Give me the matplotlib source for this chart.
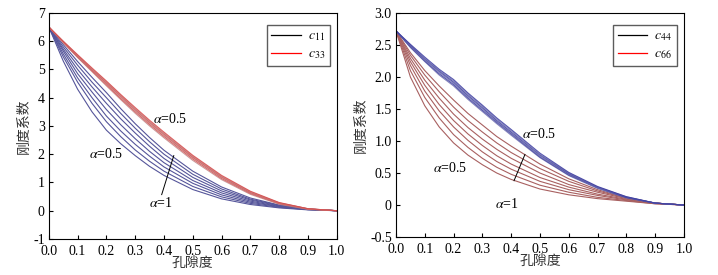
import matplotlib
matplotlib.use('Agg')
import matplotlib.pyplot as plt

plt.rcParams['font.family'] = ['Liberation Serif', 'Noto Sans CJK SC', 'DejaVu Sans']
plt.rcParams['mathtext.fontset'] = 'stix'
plt.rcParams['axes.unicode_minus'] = False

# porosity grid
phi = [0, 0.05, 0.1, 0.15, 0.2, 0.25, 0.3, 0.35, 0.4, 0.5, 0.6, 0.7, 0.8, 0.9, 1.0]

# left: c11 (alpha 0.5 -> 1), lower fan
c11 = [
    [6.5, 5.30, 4.30, 3.50, 2.85, 2.37, 1.95, 1.57, 1.25, 0.75, 0.42, 0.22, 0.10, 0.03, 0],
    [6.5, 5.45, 4.55, 3.80, 3.15, 2.62, 2.15, 1.75, 1.40, 0.86, 0.49, 0.26, 0.12, 0.04, 0],
    [6.5, 5.55, 4.70, 4.00, 3.35, 2.82, 2.35, 1.93, 1.55, 0.97, 0.56, 0.30, 0.14, 0.04, 0],
    [6.5, 5.65, 4.85, 4.20, 3.58, 3.04, 2.55, 2.10, 1.70, 1.07, 0.63, 0.34, 0.15, 0.05, 0],
    [6.5, 5.72, 5.00, 4.38, 3.80, 3.25, 2.75, 2.28, 1.85, 1.18, 0.70, 0.38, 0.17, 0.05, 0],
    [6.5, 5.80, 5.15, 4.55, 4.00, 3.44, 2.92, 2.44, 2.00, 1.29, 0.77, 0.41, 0.19, 0.06, 0],
    [6.5, 5.88, 5.28, 4.72, 4.18, 3.61, 3.08, 2.59, 2.14, 1.40, 0.84, 0.45, 0.20, 0.06, 0],
]
# left: c33 bundle
c33 = [
    [6.5, 5.95, 5.42, 4.92, 4.42, 3.93, 3.45, 3.00, 2.58, 1.78, 1.10, 0.58, 0.23, 0.05, 0],
    [6.5, 5.96, 5.44, 4.95, 4.46, 3.97, 3.50, 3.05, 2.63, 1.83, 1.14, 0.61, 0.25, 0.06, 0],
    [6.5, 5.97, 5.46, 4.98, 4.50, 4.01, 3.54, 3.09, 2.67, 1.87, 1.17, 0.63, 0.26, 0.06, 0],
    [6.5, 5.98, 5.48, 5.00, 4.53, 4.05, 3.58, 3.13, 2.71, 1.90, 1.20, 0.65, 0.27, 0.07, 0],
    [6.5, 5.99, 5.50, 5.02, 4.56, 4.08, 3.61, 3.16, 2.74, 1.93, 1.22, 0.67, 0.28, 0.07, 0],
    [6.5, 6.00, 5.52, 5.05, 4.59, 4.11, 3.65, 3.20, 2.78, 1.96, 1.25, 0.69, 0.29, 0.07, 0],
]

# right: c44 bundle
c44 = [
    [2.72, 2.46, 2.24, 2.03, 1.86, 1.65, 1.46, 1.27, 1.09, 0.74, 0.46, 0.26, 0.11, 0.03, 0],
    [2.72, 2.47, 2.25, 2.05, 1.88, 1.67, 1.48, 1.29, 1.11, 0.75, 0.47, 0.27, 0.12, 0.03, 0],
    [2.72, 2.48, 2.26, 2.07, 1.90, 1.69, 1.50, 1.30, 1.12, 0.76, 0.48, 0.27, 0.12, 0.03, 0],
    [2.72, 2.49, 2.28, 2.09, 1.92, 1.71, 1.52, 1.32, 1.14, 0.78, 0.49, 0.28, 0.12, 0.03, 0],
    [2.72, 2.50, 2.29, 2.10, 1.94, 1.73, 1.54, 1.34, 1.16, 0.79, 0.50, 0.28, 0.13, 0.03, 0],
    [2.72, 2.51, 2.31, 2.12, 1.96, 1.75, 1.56, 1.36, 1.18, 0.81, 0.51, 0.29, 0.13, 0.03, 0],
]
# right: c66 (alpha 0.5 -> 1), lower fan
c66 = [
    [2.72, 2.00, 1.55, 1.22, 0.97, 0.78, 0.63, 0.50, 0.40, 0.25, 0.16, 0.10, 0.06, 0.02, 0],
    [2.72, 2.10, 1.68, 1.36, 1.10, 0.90, 0.73, 0.59, 0.48, 0.31, 0.20, 0.12, 0.07, 0.02, 0],
    [2.72, 2.18, 1.78, 1.47, 1.22, 1.01, 0.83, 0.68, 0.56, 0.37, 0.24, 0.15, 0.08, 0.03, 0],
    [2.72, 2.24, 1.87, 1.57, 1.32, 1.11, 0.93, 0.77, 0.64, 0.43, 0.28, 0.17, 0.09, 0.03, 0],
    [2.72, 2.29, 1.95, 1.67, 1.42, 1.21, 1.03, 0.87, 0.73, 0.50, 0.32, 0.20, 0.10, 0.03, 0],
    [2.72, 2.34, 2.03, 1.77, 1.53, 1.32, 1.14, 0.97, 0.82, 0.57, 0.37, 0.22, 0.11, 0.03, 0],
    [2.72, 2.38, 2.10, 1.86, 1.64, 1.43, 1.25, 1.07, 0.92, 0.64, 0.41, 0.24, 0.11, 0.03, 0],
]

xticks = [0.0, 0.1, 0.2, 0.3, 0.4, 0.5, 0.6, 0.7, 0.8, 0.9, 1.0]
left_yticks = [-1, 0, 1, 2, 3, 4, 5, 6, 7]
right_yticks = [-0.5, 0, 0.5, 1.0, 1.5, 2.0, 2.5, 3.0]
right_ylabels = ['-0.5', '0', '0.5', '1.0', '1.5', '2.0', '2.5', '3.0']

blue = '#55559a'
brown = '#a86060'

fig = plt.figure(figsize=(7.18, 2.75), dpi=100)
ax1 = fig.add_axes([0.068, 0.131, 0.401, 0.822])
ax2 = fig.add_axes([0.5515, 0.138, 0.401, 0.815])

for c in c11:
    ax1.plot(phi, c, color=blue, lw=0.8)
for i, c in enumerate(c33):
    ax1.plot(phi, c, color='#d84848' if i % 2 else '#c08888', lw=0.8, alpha=0.85)
ax1.plot([], [], color='k', lw=0.9, label='$c_{11}$')
ax1.plot([], [], color='red', lw=0.9, label='$c_{33}$')

for c in c66:
    ax2.plot(phi, c, color=brown, lw=0.8)
for i, c in enumerate(c44):
    ax2.plot(phi, c, color='#3a3aa0' if i % 2 else '#7070b0', lw=0.8, alpha=0.85)
ax2.plot([], [], color='k', lw=0.9, label='$c_{44}$')
ax2.plot([], [], color='red', lw=0.9, label='$c_{66}$')

ax1.set_xlim(0, 1)
ax1.set_ylim(-1, 7)
ax1.set_yticks(left_yticks)
ax2.set_xlim(0, 1)
ax2.set_ylim(-0.5, 3.0)
ax2.set_yticks(right_yticks)
ax2.set_yticklabels(right_ylabels)

for ax in (ax1, ax2):
    ax.set_xticks(xticks)
    ax.set_xticklabels(['%.1f' % v for v in xticks])
    ax.tick_params(direction='in', length=3, labelsize=10)
    ax.tick_params(axis='x', pad=4)
    ax.tick_params(axis='y', pad=3)
    for s in ax.spines.values():
        s.set_linewidth(0.8)
    ax.set_xlabel('孔隙度', fontsize=10, family=['Noto Sans CJK SC'], labelpad=-1, color='#333333')
    ax.set_ylabel('刚度系数', fontsize=10, family=['Noto Sans CJK SC'], labelpad=2, color='#333333')
    leg = ax.legend(loc='upper right', bbox_to_anchor=(0.985, 0.96), fontsize=10,
                    fancybox=False, edgecolor='#333333', handlelength=2.1,
                    borderpad=0.35, labelspacing=0.3, handletextpad=0.5,
                    borderaxespad=0.2)
    leg.get_frame().set_linewidth(1.0)

tk = dict(fontsize=10, ha='center', va='center')
ax1.text(0.42, 3.26, r'$\alpha$=0.5', **tk)
ax1.text(0.2, 2.02, r'$\alpha$=0.5', **tk)
ax1.text(0.39, 0.28, r'$\alpha$=1', **tk)
ax1.plot([0.392, 0.434], [0.57, 1.95], color='k', lw=0.7)

ax2.text(0.497, 1.11, r'$\alpha$=0.5', **tk)
ax2.text(0.1875, 0.58, r'$\alpha$=0.5', **tk)
ax2.text(0.385, 0.01, r'$\alpha$=1', **tk)
ax2.plot([0.41, 0.448], [0.38, 0.79], color='k', lw=0.7)

fig.savefig('out.png', dpi=100)
